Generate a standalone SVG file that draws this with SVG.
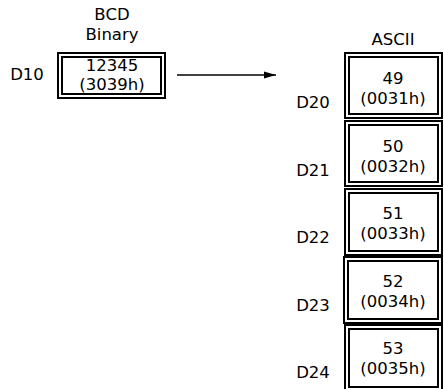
<svg xmlns="http://www.w3.org/2000/svg" width="444" height="389" viewBox="0 0 444 389">
<style>
text{font-family:"DejaVu Sans","Liberation Sans",sans-serif;font-size:16.5px;fill:#000}
.c{text-anchor:middle}
.o{fill:#fff;stroke:#000;stroke-width:2}
.i{fill:none;stroke:#000;stroke-width:2}
</style>
<defs>
<marker id="ah" markerWidth="12" markerHeight="8" refX="12" refY="4" orient="auto" markerUnits="userSpaceOnUse">
<polygon points="0,0.5 12,4 0,7.5" fill="#000"/>
</marker>
</defs>
<rect width="444" height="389" fill="#fff"/>
<g id="hdr">
<text class="c" x="112" y="20">BCD</text>
<text class="c" x="112" y="40">Binary</text>
<text class="c" x="393" y="45">ASCII</text>
</g>
<g id="d10">
<text class="c" x="27" y="80">D10</text>
<rect class="o" x="58" y="53" width="107" height="45"/>
<rect class="i" x="62" y="57" width="99" height="37"/>
<text class="c" x="112" y="70.5">12345</text>
<text class="c" x="112" y="90">(3039h)</text>
</g>
<g id="connectors">
<line x1="177" y1="75" x2="276" y2="75" stroke="#000" stroke-width="1.5" marker-end="url(#ah)"/>
</g>
<g id="d20">
<text class="c" x="313" y="108">D20</text>
<rect class="o" x="345" y="53" width="97" height="65"/>
<rect class="i" x="349" y="57" width="89" height="57"/>
<text class="c" x="393" y="84">49</text>
<text class="c" x="393" y="104">(0031h)</text>
</g>
<g id="d21">
<text class="c" x="313" y="176">D21</text>
<rect class="o" x="345" y="121" width="97" height="65"/>
<rect class="i" x="349" y="125" width="89" height="57"/>
<text class="c" x="393" y="152">50</text>
<text class="c" x="393" y="172">(0032h)</text>
</g>
<g id="d22">
<text class="c" x="313" y="243">D22</text>
<rect class="o" x="345" y="189" width="97" height="66"/>
<rect class="i" x="349" y="193" width="89" height="58"/>
<text class="c" x="393" y="219">51</text>
<text class="c" x="393" y="239">(0033h)</text>
</g>
<g id="d23">
<text class="c" x="313" y="311">D23</text>
<rect class="o" x="344" y="257" width="98" height="66"/>
<rect class="i" x="348" y="261" width="90" height="58"/>
<text class="c" x="393" y="287">52</text>
<text class="c" x="393" y="307">(0034h)</text>
</g>
<g id="d24">
<text class="c" x="313" y="378">D24</text>
<rect class="o" x="345" y="325" width="97" height="66"/>
<rect class="i" x="349" y="329" width="89" height="58"/>
<text class="c" x="393" y="354">53</text>
<text class="c" x="393" y="374">(0035h)</text>
</g>
</svg>
